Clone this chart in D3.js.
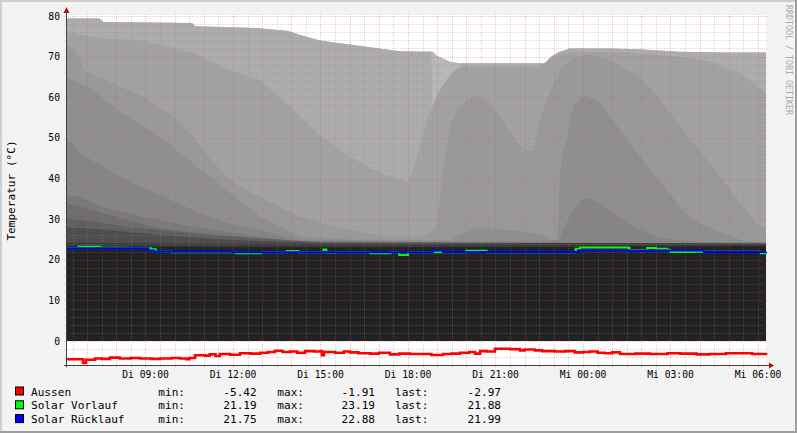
<!DOCTYPE html>
<html><head><meta charset="utf-8">
<script src="https://cdn.jsdelivr.net/npm/d3@7"></script>
<style>html,body{margin:0;padding:0;background:#f3f3f3;overflow:hidden}svg{display:block}</style>
</head><body><svg id="chart" width="797" height="433"></svg>
<script>
// ---------- data (hours since Tuesday 00:00) ----------
const dayNames = ["So","Mo","Di","Mi","Do","Fr","Sa"];
const timeStart = 6.275, timeEnd = 30.275;
const yTicks = [0,10,20,30,40,50,60,70,80];

// buffer layers, hottest/lightest first
const layer0 = [[6.275,79.4],[7.44,79.4],[7.54,78.5],[10.6,78.3],[10.7,77.5],[12.9,77.0],[13.9,76.3],[14.3,75.3],[14.98,74.0],[15.67,73.3],[16.36,72.6],[17.0,72.0],[17.73,71.3],[18.86,71.2],[19.0,70.2],[19.44,68.8],[19.78,68.4],[22.7,68.4],[22.9,70.0],[23.2,71.2],[23.55,72.0],[24.9,72.0],[25.9,71.8],[27.3,71.2],[28.8,71.0],[30.275,71.0]];
const layer1 = [[6.275,79.4],[7.44,79.4],[7.54,78.5],[10.6,78.3],[10.7,77.5],[12.9,77.0],[13.9,76.3],[14.3,75.3],[14.98,74.0],[15.67,73.3],[16.36,72.6],[17.0,72.0],[17.73,71.3],[18.8,71.2],[18.85,56],[19.75,56],[19.8,68.4],[22.7,68.4],[22.9,70.0],[23.2,71.2],[23.55,72.0],[24.9,72.0],[25.9,71.8],[27.3,71.2],[28.8,71.0],[30.275,71.0]];
const layer2 = [[6.275,76.2],[7.44,74.5],[8.91,74.0],[10.63,71.0],[11.8,67],[12.93,64.2],[13.6,60],[14.3,55.2],[15.0,50.5],[16.01,45.4],[17.04,41.3],[17.97,39.2],[18.17,42],[18.41,48],[18.65,54.4],[18.86,58],[19.0,60.5],[19.2,63],[19.44,65.5],[19.7,67.2],[19.9,67.5],[22.5,67.5],[22.9,69.5],[23.3,70.8],[23.7,71.2],[25.5,71.0],[27.3,70.0],[28.25,69.0],[29.4,66],[30.275,61]];
const layer3 = [[6.275,73.3],[6.76,70],[6.86,66.7],[8.0,63],[8.91,60.1],[10.0,55],[10.63,50.3],[11.21,45],[11.8,40.4],[12.34,37.5],[12.93,35.5],[14.3,30.6],[15.5,28],[17,26],[18.5,25.5],[19.0,28],[19.2,42],[19.44,52.7],[19.68,56.9],[20.02,59.3],[20.23,60.3],[20.71,59.3],[21.15,55.2],[21.6,50.3],[21.94,47],[22.29,47],[22.53,54.4],[22.9,62],[23.3,67.5],[23.7,69.5],[24.14,70.5],[24.93,69.2],[25.51,66.7],[25.955,65],[26.54,60.1],[27.085,55.2],[27.67,49.5],[28.25,44.6],[28.8,39.6],[29.38,34],[29.97,29],[30.275,27.3]];
const layer4 = [[6.275,65.1],[7.2,61.8],[8.0,57],[9.5,50.3],[11.21,40.4],[12.93,30.6],[14.3,25.7],[16,25],[18.5,24.8],[19.5,25],[20.02,27],[20.47,28],[21.15,27.5],[21.94,27],[22.7,26],[23.04,24.5],[23.11,24],[23.21,40.4],[23.315,47],[23.45,49.5],[23.555,54.4],[23.66,57.7],[23.9,59.8],[24.14,60.3],[24.58,58.6],[25.03,54.4],[25.51,49.5],[25.955,45.4],[26.40,41.3],[26.88,37.2],[27.32,33],[27.77,29.8],[28.25,28.1],[28.8,26.6],[29.38,24.9],[30.275,24.1]];
const layer5 = [[6.275,49.1],[6.52,48.7],[6.76,46.2],[7.54,42.9],[8.37,39.6],[9.5,35.9],[10.63,32.2],[11.8,29],[12.93,27.3],[14.3,24.9],[18,24.5],[22.5,24.5],[23.2,25],[23.315,27.3],[23.66,32.2],[23.9,34.3],[24.14,35.2],[24.58,34],[25.03,31.5],[25.51,29],[25.955,27.3],[26.54,25.7],[27.085,24.9],[28,24.5],[30.275,24.3]];
const layer6 = [[6.275,35.9],[6.76,35.5],[7.54,33],[8.91,30.6],[10.63,28.1],[12.93,25.7],[14.3,24.4],[30.275,24.0]];
const layer7 = [[6.275,34],[7.2,32.2],[8.37,29.8],[9.5,27.7],[11.8,25.7],[14,24.5],[30.275,23.9]];
const layer8 = [[6.275,30.2],[7.2,29.4],[8.37,28.1],[10.63,26.5],[12.93,25.3],[15,24.3],[30.275,23.9]];
const layer9 = [[6.275,28.1],[7.78,27.3],[9.5,26.1],[11.8,24.9],[15,24.2],[30.275,23.8]];
const layer10 = [[6.275,24.2],[12,24],[18,23.8],[24,24.1],[30.275,24.0]];
const layer11 = [[6.275,23.3],[12,23.1],[18,23.1],[30.275,23.3]];
const layers = [layer0,layer1,layer2,layer3,layer4,layer5,layer6,layer7,layer8,layer9,layer10,layer11];
const layerColors = ["#b8b8b8","#acacac","#a2a2a2","#999999","#8f8f8f","#858585","#7a7a7a","#6e6e6e","#606060","#4e4e4e","#3a3a3a","#222222"];

const aussen = [[6.275,-4.5],[6.58,-4.5],[6.86,-5.42],[6.96,-4.6],[7.27,-4.3],[7.5,-4.4],[7.78,-4.1],[8.12,-4.3],[8.5,-4.2],[8.81,-4.3],[9.2,-4.4],[9.5,-4.3],[9.9,-4.2],[10.18,-4.3],[10.4,-4.5],[10.5,-4.2],[10.7,-3.5],[11.04,-3.6],[11.2,-3.3],[11.4,-3.7],[11.55,-3.2],[11.9,-3.4],[12.24,-3.0],[12.6,-3.1],[12.93,-2.9],[13.2,-2.7],[13.44,-2.4],[13.7,-2.7],[13.95,-2.6],[14.2,-2.9],[14.47,-2.5],[14.8,-2.6],[15.0,-2.5],[15.05,-3.5],[15.12,-2.7],[15.5,-2.9],[15.8,-2.6],[16.01,-2.8],[16.3,-3.0],[16.7,-3.1],[17.0,-2.9],[17.38,-3.3],[17.7,-3.1],[18.07,-3.2],[18.5,-3.2],[18.8,-3.45],[19.2,-3.2],[19.5,-3.1],[19.78,-2.9],[20.1,-2.7],[20.3,-3.1],[20.47,-2.5],[20.7,-2.6],[20.98,-1.91],[21.5,-2.0],[21.84,-2.3],[22.0,-2.1],[22.35,-2.3],[22.6,-2.5],[23.04,-2.6],[23.4,-2.5],[23.72,-2.8],[24.0,-2.7],[24.24,-2.6],[24.5,-2.9],[24.75,-3.0],[25.0,-2.8],[25.27,-3.2],[25.8,-3.1],[26.3,-3.2],[26.9,-3.0],[27.33,-3.1],[27.9,-3.3],[28.35,-3.2],[28.9,-3.0],[29.38,-3.0],[29.8,-3.2],[30.275,-2.97]];
const vorlauf = [[6.275,22.9],[6.7,23.19],[7.44,22.95],[8.4,22.9],[9.1,22.85],[9.2,22.6],[9.35,22.0],[9.8,22.0],[9.9,21.85],[10.2,21.85],[12.1,21.85],[12.1,21.6],[12.9,21.6],[12.95,21.85],[13.85,21.85],[13.85,22.15],[14.2,22.15],[14.25,21.85],[15.1,22.5],[15.2,21.8],[15.5,21.85],[16.7,21.6],[17.4,21.85],[17.7,21.19],[18.0,21.85],[20.0,22.2],[20.7,21.85],[23.75,22.7],[23.9,23.0],[25.55,22.9],[25.6,22.4],[26.2,22.9],[26.5,22.7],[26.9,22.4],[27.0,21.9],[27.6,21.9],[27.8,22.0],[30.1,21.6],[30.275,21.88]];
const ruecklauf = [[6.275,22.85],[8.97,22.85],[9.1,22.3],[9.3,21.95],[12.0,21.85],[18.8,21.85],[18.85,22.25],[19.2,21.9],[23.8,21.9],[23.85,22.3],[28.1,22.3],[28.15,21.9],[30.275,21.99]];

const legendRows = [
  {name:"Aussen", color:"#ff0000", min:"-5.42", max:"-1.91", last:"-2.97"},
  {name:"Solar Vorlauf", color:"#00ff00", min:"21.19", max:"23.19", last:"21.88"},
  {name:"Solar Rücklauf", color:"#0000ff", min:"21.75", max:"22.88", last:"21.99"}
];

// ---------- drawing ----------
const W = 797, H = 433;
const svg = d3.select("#chart");
const day0 = new Date(2012,0,10).getTime(); // a Tuesday
const t = h => new Date(day0 + h*3600e3);
const X0 = 66, X1 = 766, YTOP = 16;
const x = d3.scaleTime().domain([t(timeStart), t(timeEnd)]).range([X0, X1]);
const y = d3.scaleLinear().domain([0,80]).range([341, YTOP]);
const yBottom = y(-6);

svg.append("rect").attr("width",W).attr("height",H).attr("fill","#f3f3f3");
svg.append("rect").attr("x",0).attr("y",0).attr("width",W).attr("height",2).attr("fill","#cfcfcf");
svg.append("rect").attr("x",0).attr("y",0).attr("width",2).attr("height",H).attr("fill","#cfcfcf");
svg.append("rect").attr("x",W-2).attr("y",0).attr("width",2).attr("height",H).attr("fill","#9e9e9e");
svg.append("rect").attr("x",0).attr("y",H-2).attr("width",W).attr("height",2).attr("fill","#9e9e9e");

svg.append("rect").attr("x",X0).attr("y",15).attr("width",X1-X0).attr("height",yBottom-15).attr("fill","#ffffff");

const area = d3.area().x(d=>x(t(d[0]))).y0(y(0)).y1(d=>y(d[1])).curve(d3.curveLinear);
const gL = svg.append("g");
layers.forEach((L,i)=>{
  gL.append("path").datum(L).attr("d",area).attr("fill",layerColors[i]);
});

// grid
const gGrid = svg.append("g").attr("shape-rendering","crispEdges");
const minorColor = "rgba(140,140,140,0.32)", majorColor = "rgba(222,80,80,0.36)";
for (let v=-4; v<=80; v+=2) {
  const major = v % 10 === 0;
  const yy = Math.round(y(v))+0.5;
  gGrid.append("line").attr("x1",X0-2).attr("x2",X1+2).attr("y1",yy).attr("y2",yy)
    .attr("stroke", major?majorColor:minorColor).attr("stroke-dasharray","1,1");
}
const minorT = d3.timeMinute.every(30).range(t(timeStart), t(timeEnd));
minorT.forEach(d=>{
  const major = d.getMinutes()===0;
  const xx = Math.round(x(d))+0.5;
  gGrid.append("line").attr("x1",xx).attr("x2",xx).attr("y1",YTOP-2).attr("y2",yBottom+2)
    .attr("stroke", major?majorColor:minorColor).attr("stroke-dasharray","1,1");
});

// lines
const line = d3.line().x(d=>x(t(d[0]))).y(d=>y(d[1])).curve(d3.curveStepAfter);
svg.append("path").datum(vorlauf).attr("d",line).attr("fill","none").attr("stroke","#00ff00").attr("stroke-width",2);
svg.append("path").datum(ruecklauf).attr("d",line).attr("fill","none").attr("stroke","#0000ff").attr("stroke-width",2);
svg.append("path").datum(aussen).attr("d",line).attr("fill","none").attr("stroke","#ff0000").attr("stroke-width",2.6);

// axes
const axisCol = "#404040", arrowCol = "#a01818";
svg.append("line").attr("x1",X0+0.5).attr("x2",X0+0.5).attr("y1",yBottom+2).attr("y2",10).attr("stroke",axisCol);
svg.append("line").attr("x1",X0-2).attr("x2",X1+4).attr("y1",365.5).attr("y2",365.5).attr("stroke",axisCol);
svg.append("path").attr("d",`M${X0-2.5},13 L${X0+0.5},7 L${X0+3.5},13 Z`).attr("fill",arrowCol);
svg.append("path").attr("d",`M769,362.5 L774,365.5 L769,368.5 Z`).attr("fill",arrowCol);

const mono = "'DejaVu Sans Mono', monospace";
svg.append("g").selectAll("text").data(yTicks).join("text")
  .attr("x",60).attr("y",d=>y(d)+3.5).attr("text-anchor","end")
  .attr("font-family",mono).attr("font-size","9.7px").attr("fill","#000").text(d=>d);
const labT = d3.timeHour.every(3).range(t(timeStart), t(timeEnd));
svg.append("g").selectAll("text").data(labT).join("text")
  .attr("x",d=>x(d)).attr("y",378).attr("text-anchor","middle")
  .attr("font-family",mono).attr("font-size","9.7px").attr("fill","#000")
  .text(d=>dayNames[d.getDay()]+" "+d3.timeFormat("%H:%M")(d));

svg.append("text").attr("transform","translate(14.6,190.5) rotate(-90)").attr("text-anchor","middle")
  .attr("font-family",mono).attr("font-size","11.1px").attr("fill","#000").text("Temperatur (°C)");
svg.append("text").attr("transform","translate(786,5) rotate(90)").attr("text-anchor","start")
  .attr("font-family",mono).attr("font-size","8.3px").attr("fill","#a8a8a8").text("RRDTOOL / TOBI OETIKER");

const rowY = [395.5, 409.3, 423.1];
const gLeg = svg.append("g").attr("font-family",mono).attr("font-size","11.1px").attr("fill","#000");
legendRows.forEach((r,i)=>{
  const by = rowY[i];
  gLeg.append("rect").attr("x",15.5).attr("y",by-8.5).attr("width",8).attr("height",8)
    .attr("fill",r.color).attr("stroke","#000").attr("stroke-width",1);
  gLeg.append("text").attr("x",31).attr("y",by).text(r.name);
  gLeg.append("text").attr("x",158.3).attr("y",by).text("min:");
  gLeg.append("text").attr("x",256.7).attr("y",by).attr("text-anchor","end").text(r.min);
  gLeg.append("text").attr("x",277.3).attr("y",by).text("max:");
  gLeg.append("text").attr("x",375).attr("y",by).attr("text-anchor","end").text(r.max);
  gLeg.append("text").attr("x",395).attr("y",by).text("last:");
  gLeg.append("text").attr("x",501).attr("y",by).attr("text-anchor","end").text(r.last);
});
</script></body></html>
